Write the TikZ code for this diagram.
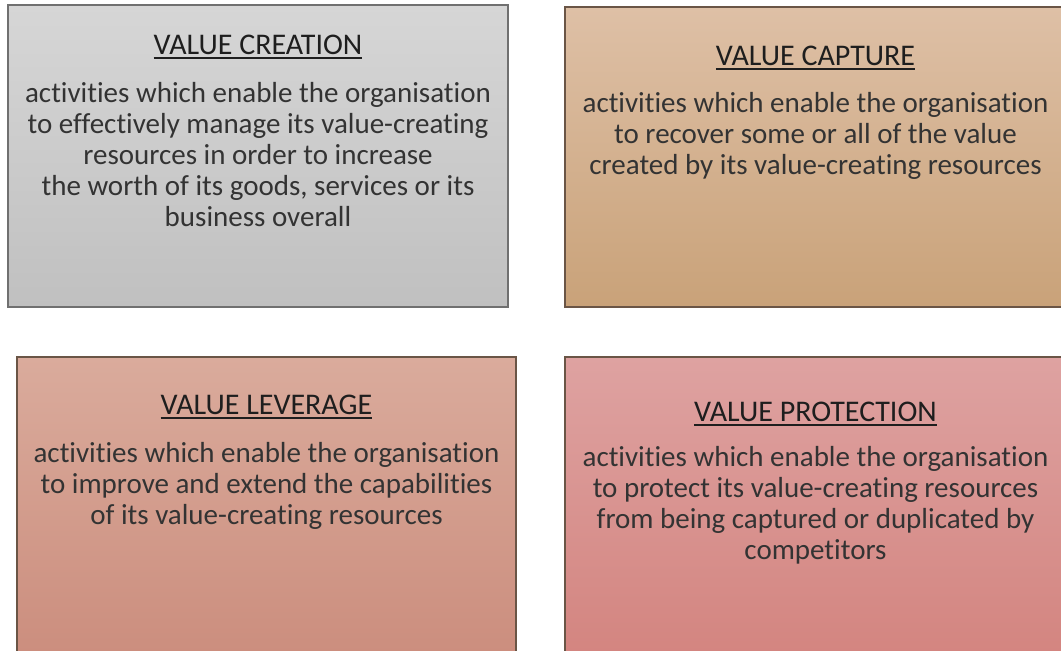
\documentclass[tikz,border=0pt]{standalone}
\usepackage{fontspec}
\setmainfont[Ligatures=NoCommon]{Carlito}
\usetikzlibrary{positioning}

% fills of the four panels
\definecolor{greytop}{HTML}{D6D6D6}
\definecolor{greybot}{HTML}{C0C0C0}
\definecolor{tantop}{HTML}{DEC0A6}
\definecolor{tanbot}{HTML}{C9A279}
\definecolor{salmontop}{HTML}{DAAB9C}
\definecolor{salmonbot}{HTML}{CB8D7D}
\definecolor{rosetop}{HTML}{DEA2A1}
\definecolor{rosebot}{HTML}{D3847F}
\definecolor{inkgray}{HTML}{1E1E1E}
\definecolor{bodygray}{HTML}{333333}
\definecolor{edgegray}{HTML}{707070}
\definecolor{edgebrown}{HTML}{6A5546}

% underlined heading
\newcommand{\headline}[1]{\sbox0{#1}\rlap{\color{inkgray}\rule[-4.2pt]{\wd0}{1.4pt}}\usebox0}

\tikzset{
  panel/.style={rectangle, inner sep=0pt, line width=1.1pt},
  heading/.style={anchor=base, inner sep=0pt, text=inkgray,
    font=\fontsize{30}{32}\selectfont},
  blurb/.style={anchor=north, inner sep=0pt, text=bodygray, align=center,
    font=\fontsize{29}{31}\selectfont}
}

\begin{document}
\begin{tikzpicture}[x=1pt, y=-1pt]
  \useasboundingbox (0,0) rectangle (1061,651);
  \clip (0,0) rectangle (1061,651);

  % Panels
  \node[panel, draw=edgegray, top color=greytop, bottom color=greybot,
    minimum width=500pt, minimum height=302pt] (creation) at (258,156) {};
  \node[panel, draw=edgebrown, top color=tantop, bottom color=tanbot,
    minimum width=501pt, minimum height=300pt] (capture) at (815.5,157) {};
  \node[panel, draw=edgebrown, top color=salmontop, bottom color=salmonbot,
    minimum width=499pt, minimum height=306pt] (leverage) at (266.5,510) {};
  \node[panel, draw=edgebrown, top color=rosetop, bottom color=rosebot,
    minimum width=501pt, minimum height=306pt] (protection) at (815.5,510) {};

  % Value creation
  \node[heading] (creationhead) at ([yshift=-50pt]creation.north) {\headline{VALUE CREATION}};
  \node[blurb] (creationtext) at ([yshift=-78pt]creation.north)
    {activities which enable the organisation\\
     to effectively manage its value-creating\\
     resources in order to increase\\
     the worth of its goods, services or its\\
     business overall};

  % Value capture
  \node[heading] (capturehead) at ([yshift=-59pt]capture.north) {\headline{VALUE CAPTURE}};
  \node[blurb] (capturetext) at ([yshift=-86pt]capture.north)
    {activities which enable the organisation\\
     to recover some or all of the value\\
     created by its value-creating resources};

  % Value leverage
  \node[heading] (leveragehead) at ([yshift=-58pt]leverage.north) {\headline{VALUE LEVERAGE}};
  \node[blurb] (leveragetext) at ([yshift=-86pt]leverage.north)
    {activities which enable the organisation\\
     to improve and extend the capabilities\\
     of its value-creating resources};

  % Value protection
  \node[heading] (protectionhead) at ([yshift=-65pt]protection.north) {\headline{VALUE PROTECTION}};
  \node[blurb] (protectiontext) at ([yshift=-90pt]protection.north)
    {activities which enable the organisation\\
     to protect its value-creating resources\\
     from being captured or duplicated by\\
     competitors};
\end{tikzpicture}
\end{document}
